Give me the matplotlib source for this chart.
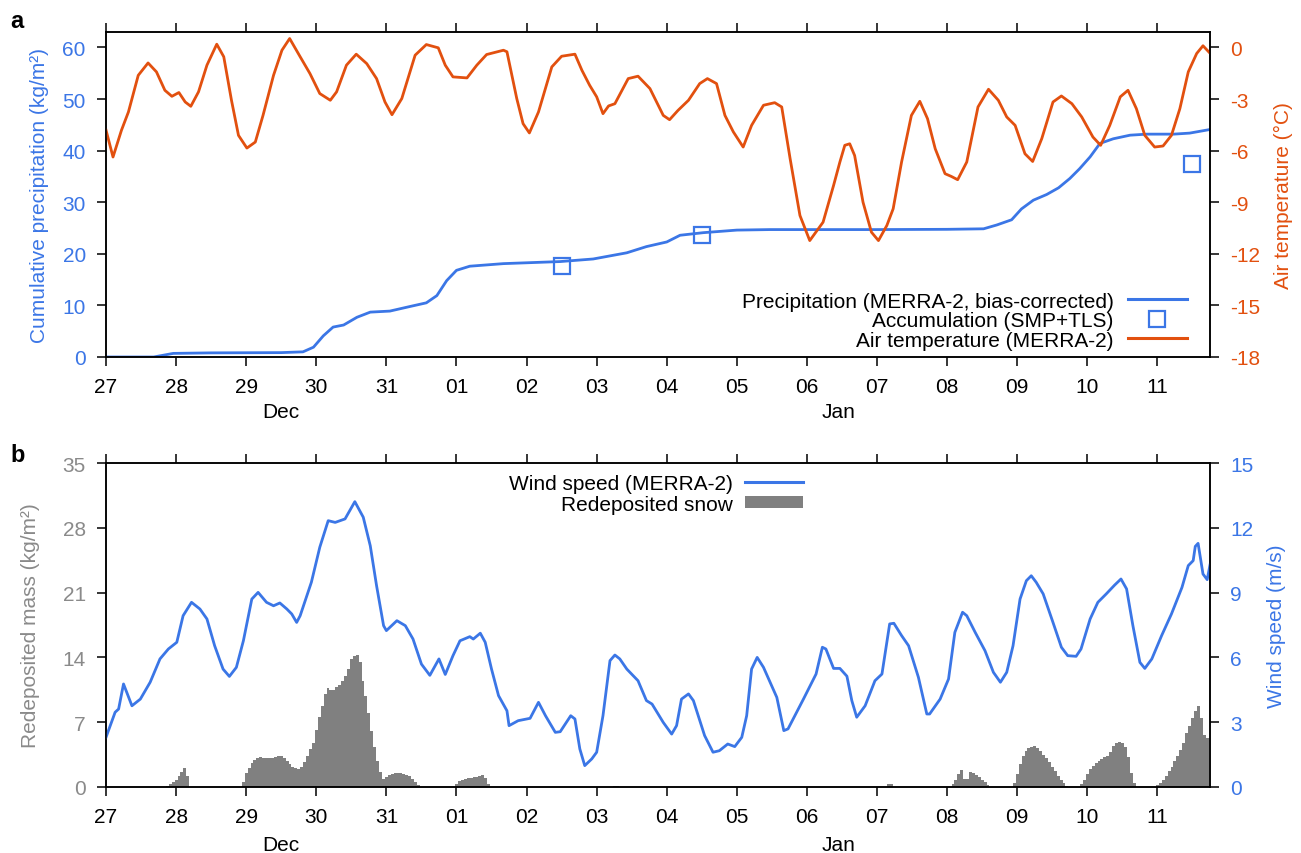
import numpy as np
import matplotlib.pyplot as plt
import matplotlib.transforms as mtransforms
from matplotlib.lines import Line2D
from matplotlib.patches import Patch

plt.rcParams['font.family'] = ['Liberation Sans', 'DejaVu Sans']
plt.rcParams['axes.unicode_minus'] = False

BLUE = '#3B76E6'
ORANGE = '#E2500F'
GREY = '#808080'
GREY_TXT = '#8A8A8A'

# days since 27 Dec 00:00
day_ticks = list(range(16))
day_labels = ['27', '28', '29', '30', '31', '01', '02', '03', '04', '05',
              '06', '07', '08', '09', '10', '11']

# --- panel a ---
temp_days = [0.00, 0.10, 0.22, 0.32, 0.46, 0.60, 0.72, 0.84, 0.94, 1.04, 1.13, 1.21,
             1.32, 1.44, 1.58, 1.68, 1.79, 1.89, 2.01, 2.13, 2.24, 2.39, 2.51, 2.62,
             2.77, 2.91, 3.05, 3.20, 3.29, 3.43, 3.57, 3.72, 3.86, 3.98, 4.08, 4.22,
             4.41, 4.57, 4.74, 4.84, 4.95, 5.15, 5.29, 5.43, 5.67, 5.72, 5.86, 5.95,
             6.04, 6.17, 6.36, 6.50, 6.69, 6.79, 6.90, 7.00, 7.09, 7.17, 7.26, 7.45,
             7.59, 7.76, 7.95, 8.04, 8.16, 8.31, 8.47, 8.58, 8.71, 8.83, 8.95, 9.09,
             9.21, 9.38, 9.54, 9.64, 9.76, 9.90, 10.04, 10.23, 10.38, 10.47, 10.54,
             10.61, 10.68, 10.80, 10.92, 11.02, 11.14, 11.23, 11.35, 11.49, 11.61,
             11.72, 11.83, 11.97, 12.06, 12.15, 12.28, 12.44, 12.59, 12.73, 12.85,
             12.97, 13.11, 13.22, 13.35, 13.51, 13.63, 13.78, 13.92, 14.08, 14.19,
             14.32, 14.47, 14.58, 14.70, 14.82, 14.96, 15.08, 15.20, 15.32, 15.44,
             15.56, 15.65, 15.74]
temp_vals = [-4.8, -6.37, -4.82, -3.75, -1.62, -0.90, -1.42, -2.49, -2.84, -2.62, -3.17, -3.42,
             -2.58, -1.03, 0.19, -0.54, -3.07, -5.11, -5.85, -5.50, -3.95, -1.62, -0.16, 0.52,
             -0.54, -1.52, -2.68, -3.07, -2.58, -1.03, -0.39, -0.94, -1.81, -3.17, -3.91, -2.97,
             -0.45, 0.17, -0.02, -1.03, -1.71, -1.77, -1.03, -0.41, -0.16, -0.25, -2.97, -4.43,
             -4.97, -3.75, -1.13, -0.51, -0.39, -1.33, -2.20, -2.87, -3.85, -3.40, -3.27, -1.81,
             -1.67, -2.39, -3.95, -4.20, -3.66, -3.07, -2.10, -1.81, -2.10, -3.95, -4.91, -5.79,
             -4.53, -3.36, -3.21, -3.46, -6.47, -9.77, -11.23, -10.16, -8.02, -6.66, -5.69,
             -5.60, -6.28, -9.00, -10.74, -11.23, -10.35, -9.38, -6.66, -3.95, -3.13,
             -4.14, -5.89, -7.34, -7.50, -7.69, -6.66, -3.46, -2.43, -3.07, -4.04,
             -4.53, -6.18, -6.63, -5.30, -3.17, -2.82, -3.27, -4.04, -5.21, -5.69,
             -4.53, -2.87, -2.49, -3.56, -5.11, -5.79, -5.73, -5.11, -3.56, -1.42,
             -0.35, 0.10, -0.29]

precip_days = [0.0, 0.68, 0.80, 0.96, 1.5, 2.5, 2.81, 2.96, 3.10, 3.24, 3.39, 3.58, 3.77,
               4.05, 4.34, 4.57, 4.72, 4.86, 5.00, 5.19, 5.67, 6.48, 6.95, 7.43, 7.71,
               8.00, 8.19, 8.52, 9.00, 9.47, 11.0, 12.0, 12.52, 12.71, 12.92, 13.06,
               13.23, 13.42, 13.59, 13.75, 13.89, 14.04, 14.18, 14.37, 14.61, 14.85,
               15.23, 15.46, 15.75]
precip_vals = [0.0, 0.0, 0.3, 0.7, 0.8, 0.85, 1.0, 1.9, 4.1, 5.8, 6.2, 7.7, 8.7,
               8.9, 9.8, 10.5, 11.9, 14.8, 16.8, 17.6, 18.1, 18.5, 19.0, 20.2, 21.4,
               22.3, 23.6, 24.1, 24.6, 24.7, 24.7, 24.75, 24.85, 25.6, 26.6, 28.7,
               30.4, 31.5, 32.8, 34.6, 36.5, 38.8, 41.4, 42.3, 43.0, 43.2,
               43.2, 43.4, 44.1]

accum_days = [6.5, 8.5, 15.5]
accum_vals = [17.7, 23.7, 37.5]

# --- panel b ---
wind_days = [0.00, 0.13, 0.18, 0.25, 0.37, 0.49, 0.63, 0.77, 0.89, 1.01, 1.10, 1.22, 1.34,
             1.44, 1.55, 1.67, 1.76, 1.86, 1.96, 2.08, 2.17, 2.29, 2.39, 2.48, 2.58, 2.65,
             2.72, 2.77, 2.93, 3.05, 3.17, 3.27, 3.41, 3.55, 3.67, 3.77, 3.86, 3.96, 4.00,
             4.15, 4.27, 4.38, 4.50, 4.62, 4.75, 4.84, 4.95, 5.05, 5.19, 5.24, 5.34, 5.41,
             5.50, 5.60, 5.72, 5.75, 5.88, 6.05, 6.17, 6.27, 6.41, 6.48, 6.63, 6.69, 6.76,
             6.83, 6.93, 7.00, 7.09, 7.19, 7.26, 7.33, 7.43, 7.59, 7.71, 7.79, 7.95, 8.07,
             8.14, 8.21, 8.31, 8.38, 8.54, 8.66, 8.75, 8.87, 8.97, 9.07, 9.14, 9.21, 9.29,
             9.38, 9.57, 9.67, 9.73, 9.95, 10.13, 10.22, 10.27, 10.38, 10.47, 10.57, 10.64,
             10.71, 10.83, 10.97, 11.07, 11.11, 11.18, 11.24, 11.35, 11.45, 11.59, 11.71,
             11.75, 11.90, 12.02, 12.11, 12.22, 12.28, 12.40, 12.54, 12.66, 12.76, 12.85,
             12.94, 13.04, 13.13, 13.20, 13.27, 13.37, 13.51, 13.63, 13.72, 13.84, 13.91,
             14.04, 14.15, 14.27, 14.39, 14.48, 14.56, 14.65, 14.75, 14.82, 14.92, 15.06,
             15.20, 15.35, 15.44, 15.51, 15.54, 15.58, 15.65, 15.71, 15.75]
wind_vals = [2.30, 3.46, 3.61, 4.77, 3.76, 4.07, 4.85, 5.93, 6.39, 6.70, 7.93, 8.55, 8.24,
             7.78, 6.54, 5.46, 5.12, 5.54, 6.77, 8.70, 9.01, 8.55, 8.39, 8.52, 8.24, 8.01,
             7.62, 7.93, 9.48, 11.10, 12.33, 12.25, 12.41, 13.21, 12.49, 11.17, 9.32, 7.47, 7.24,
             7.70, 7.47, 6.85, 5.69, 5.17, 5.93, 5.21, 6.08, 6.77, 6.96, 6.85, 7.12, 6.70,
             5.46, 4.23, 3.53, 2.84, 3.07, 3.18, 3.92, 3.30, 2.53, 2.56, 3.30, 3.15, 1.76,
             0.99, 1.30, 1.61, 3.30, 5.85, 6.11, 5.93, 5.46, 4.92, 4.00, 3.84, 2.99, 2.45,
             2.84, 4.07, 4.31, 4.00, 2.38, 1.61, 1.68, 1.99, 1.87, 2.30, 3.30, 5.46, 6.00,
             5.54, 4.15, 2.61, 2.69, 4.07, 5.23, 6.47, 6.39, 5.49, 5.49, 5.13, 4.00,
             3.23, 3.76, 4.92, 5.23, 6.08, 7.55, 7.58, 7.01, 6.54, 5.08, 3.38,
             3.38, 4.07, 5.00, 7.16, 8.09, 7.93, 7.16, 6.31, 5.31, 4.85, 5.31,
             6.54, 8.70, 9.55, 9.78, 9.48, 8.94, 7.62, 6.47, 6.08, 6.05, 6.39,
             7.78, 8.55, 8.94, 9.35, 9.63, 9.17, 7.47, 5.77, 5.49, 5.93, 7.01,
             8.01, 9.24, 10.25, 10.48, 11.14, 11.28, 9.86, 9.60, 10.28]

# redeposited snow, hourly bars (hour since 27 Dec 00:00, kg/m2)
redep_hours = ([21, 22, 23, 24, 25, 26, 27, 28]
               + list(range(47, 108))
               + list(range(120, 132))
               + [174, 175, 268, 269]
               + list(range(290, 303))
               + list(range(311, 330))
               + list(range(334, 353))
               + list(range(360, 378)))
redep_vals = ([0.1, 0.3, 0.5, 0.8, 1.2, 1.6, 2.1, 1.2]
              + [0.5, 1.5, 2.1, 2.6, 2.9, 3.1, 3.2, 3.1, 3.1, 3.1, 3.1, 3.2, 3.35, 3.3,
                 3.1, 2.85, 2.5, 2.2, 2.0, 1.9, 2.2, 2.7, 3.3, 4.1, 4.8, 6.2, 7.6, 8.8,
                 10.0, 10.7, 10.5, 10.5, 10.8, 11.0, 11.5, 12.0, 12.8, 13.8, 14.2, 14.3,
                 13.5, 11.5, 9.8, 8.0, 6.0, 4.3, 2.8, 1.6, 0.9, 1.1, 1.3, 1.4, 1.5, 1.5,
                 1.5, 1.4, 1.3, 1.2, 0.9, 0.5, 0.2]
              + [0.3, 0.6, 0.8, 0.9, 1.0, 1.0, 1.05, 1.1, 1.2, 1.3, 1.0, 0.3]
              + [0.15, 0.15, 0.3, 0.35]
              + [0.3, 0.8, 1.4, 1.8, 0.9, 0.9, 1.6, 1.5, 1.3, 1.1, 0.8, 0.5, 0.2]
              + [0.4, 1.4, 2.5, 3.3, 3.9, 4.2, 4.35, 4.4, 4.2, 3.9, 3.5, 3.1, 2.7, 2.2,
                 1.7, 1.2, 0.8, 0.4, 0.1]
              + [0.3, 0.8, 1.4, 1.9, 2.3, 2.6, 2.8, 3.0, 3.2, 3.4, 3.8, 4.4, 4.7, 4.9,
                 4.8, 4.3, 3.2, 1.5, 0.4]
              + [0.2, 0.4, 0.8, 1.2, 1.7, 2.2, 2.8, 3.4, 4.0, 4.8, 5.8, 6.6, 7.4, 8.2,
                 8.7, 7.5, 5.6, 5.3])

W, H = 1301, 854
fig = plt.figure(figsize=(W / 100, H / 100), dpi=100)
ax1 = fig.add_axes([106 / W, 1 - 358 / H, 1104 / W, 325 / H])
ax2 = ax1.twinx()
ax3 = fig.add_axes([106 / W, 1 - 788 / H, 1104 / W, 324 / H])
ax4 = ax3.twinx()

FS = 15

ax1.plot(precip_days, precip_vals, color=BLUE, lw=2.0, solid_joinstyle='round')
ax1.plot(accum_days, accum_vals, ls='none', marker='s', ms=12, mfc='none',
         mec=BLUE, mew=1.6)
ax2.plot(temp_days, temp_vals, color=ORANGE, lw=2.0, solid_joinstyle='round')

# hourly series on a full grid so the bars join up without seams
n_hours = 378
hourly = np.zeros(n_hours)
hourly[np.array(redep_hours)] = redep_vals
edges = (np.arange(n_hours + 1) - 0.5) / 24
ax3.stairs(hourly, edges, fill=True, color=GREY, lw=0)
ax4.plot(wind_days, wind_vals, color=BLUE, lw=2.0, solid_joinstyle='round')

ax1.set_ylim(0, 63)
ax1.set_yticks(range(0, 61, 10))
ax2.set_ylim(-18, 0.9)
ax2.set_yticks(range(-18, 1, 3))
ax3.set_ylim(0, 35)
ax3.set_yticks(range(0, 36, 7))
ax4.set_ylim(0, 15)
ax4.set_yticks(range(0, 16, 3))

for ax in (ax1, ax3):
    ax.set_xlim(0, 15.75)
    ax.set_xticks(day_ticks)
    ax.set_xticklabels(day_labels)
    ax.tick_params(axis='x', top=True, direction='out', length=6.5, width=1.1,
                   labelsize=FS, pad=8)

for ax in (ax1, ax2, ax3, ax4):
    for sp in ax.spines.values():
        sp.set_linewidth(1.1)
    ax.tick_params(axis='y', direction='out', length=6.5, width=1.1, labelsize=FS, pad=8)

ax1.tick_params(axis='y', labelcolor=BLUE)
ax2.tick_params(axis='y', labelcolor=ORANGE)
ax3.tick_params(axis='y', labelcolor=GREY_TXT)
ax4.tick_params(axis='y', labelcolor=BLUE)

ax1.set_ylabel('Cumulative precipitation (kg/m\u00b2)', color=BLUE, fontsize=FS, labelpad=10)
ax2.set_ylabel('Air temperature (\u00b0C)', color=ORANGE, fontsize=FS, labelpad=10)
ax3.set_ylabel('Redeposited mass (kg/m\u00b2)', color=GREY_TXT, fontsize=FS, labelpad=16)
ax4.set_ylabel('Wind speed (m/s)', color=BLUE, fontsize=FS, labelpad=10)

for ax, ymon in ((ax1, -0.169), (ax3, -0.176)):
    tr = mtransforms.blended_transform_factory(ax.transData, ax.transAxes)
    ax.text(2.5, ymon, 'Dec', transform=tr, ha='center', va='center', fontsize=FS)
    ax.text(10.45, ymon, 'Jan', transform=tr, ha='center', va='center', fontsize=FS)

fig.text(10 / W, 1 - 22 / H, 'a', fontsize=17, fontweight='bold', va='center')
fig.text(10 / W, 1 - 456 / H, 'b', fontsize=17, fontweight='bold', va='center')

handles_a = [Line2D([], [], color=BLUE, lw=2.2),
             Line2D([], [], ls='none', marker='s', ms=12, mfc='none', mec=BLUE, mew=1.6),
             Line2D([], [], color=ORANGE, lw=2.2)]
labels_a = ['Precipitation (MERRA-2, bias-corrected)', 'Accumulation (SMP+TLS)',
            'Air temperature (MERRA-2)']
ax2.legend(handles_a, labels_a, loc='lower right', bbox_to_anchor=(0.992, -0.022),
           frameon=False, markerfirst=False, fontsize=FS, handlelength=2.8,
           labelspacing=0.02, handletextpad=0.7, borderaxespad=0.3)

handles_b = [Line2D([], [], color=BLUE, lw=2.2),
             Patch(facecolor=GREY, edgecolor='none')]
labels_b = ['Wind speed (MERRA-2)', 'Redeposited snow']
ax4.legend(handles_b, labels_b, loc='upper right', bbox_to_anchor=(0.645, 1.012),
           frameon=False, markerfirst=False, fontsize=FS, handlelength=2.8,
           handleheight=0.5, labelspacing=0.1, handletextpad=0.6, borderaxespad=0.3)

fig.savefig('out.png', dpi=100)
